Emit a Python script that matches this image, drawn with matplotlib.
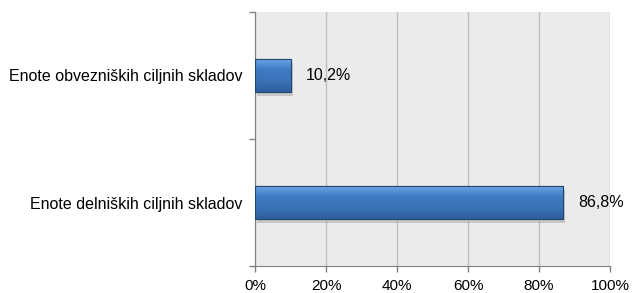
import numpy as np
import matplotlib.pyplot as plt
from matplotlib.colors import LinearSegmentedColormap

plt.rcParams['font.family'] = ['Liberation Sans', 'DejaVu Sans']

# Data
categories = ['Enote delniških ciljnih skladov', 'Enote obvezniških ciljnih skladov']
values = [86.8, 10.2]
labels = ['86,8%', '10,2%']
xticks = [0, 20, 40, 60, 80, 100]
xtick_labels = ['0%', '20%', '40%', '60%', '80%', '100%']

fig = plt.figure(figsize=(6.32, 2.93), dpi=100)
ax = fig.add_axes([255 / 632, 1 - 266 / 293, 355 / 632, 254 / 293])
ax.set_facecolor('#EBEBEB')

bar_h = 0.26
ypos = np.arange(len(categories))
bars = ax.barh(ypos, values, height=bar_h, color='#3F7BC4', edgecolor='#24466F',
               linewidth=0.8, zorder=3)

# vertical gradient + shadow to mimic the beveled look
cmap = LinearSegmentedColormap.from_list('bev', ['#6FA6E6', '#3F7BC4', '#3A73B8', '#2E5F9C'])
grad = np.linspace(0, 1, 64).reshape(-1, 1)
for b in bars:
    x0, y0, w, h = b.get_x(), b.get_y(), b.get_width(), b.get_height()
    ax.add_patch(plt.Rectangle((x0 + 0.6, y0 - 0.03), w, h, color='#B0B0B0',
                               alpha=0.6, zorder=2, lw=0))
    im = ax.imshow(grad, cmap=cmap, aspect='auto', extent=(x0, x0 + w, y0, y0 + h),
                   origin='upper', zorder=3.5)
    im.set_clip_path(b)
    ax.add_patch(plt.Rectangle((x0, y0), w, h, fill=False, edgecolor='#24466F',
                               lw=0.8, zorder=4))

for y, v, lab in zip(ypos, values, labels):
    ax.text(v + 4.2, y, lab, va='center', ha='left', fontsize=11.5, color='#000000')

ax.set_xlim(0, 100)
ax.set_ylim(-0.5, 1.5)
ax.set_xticks(xticks)
ax.set_xticklabels(xtick_labels, fontsize=11)
ax.set_yticks(ypos)
ax.set_yticklabels(categories, fontsize=11.5)
ax.set_yticks([-0.5, 0.5, 1.5], minor=True)
ax.tick_params(axis='y', which='major', length=0, pad=9)
ax.tick_params(axis='y', which='minor', length=4, color='#808080', width=1)
ax.tick_params(axis='x', length=4, color='#808080', width=1, pad=5)
ax.xaxis.grid(True, color='#BFBFBF', linewidth=1, zorder=0)
ax.set_axisbelow(True)
for s in ['top', 'right']:
    ax.spines[s].set_visible(False)
ax.spines['left'].set_color('#808080')
ax.spines['bottom'].set_color('#808080')

fig.savefig('out.png', dpi=100)
